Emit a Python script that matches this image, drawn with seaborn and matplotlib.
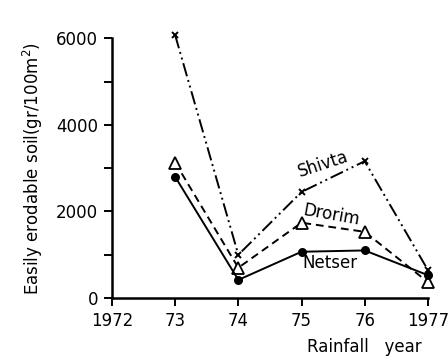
import matplotlib
matplotlib.use("Agg")
import matplotlib.pyplot as plt
import pandas as pd
import seaborn as sns
from matplotlib.ticker import MultipleLocator

years = [1973, 1974, 1975, 1976, 1977]
shivta = [6070, 1000, 2450, 3160, 650]
drorim = [3130, 700, 1740, 1530, 370]
netser = [2800, 420, 1070, 1100, 530]

xticks = [1972, 1973, 1974, 1975, 1976, 1977]
xtick_labels = ["1972", "73", "74", "75", "76", "1977"]
yticks = [0, 2000, 4000, 6000]

df = pd.DataFrame({
    "year": years * 3,
    "soil": shivta + drorim + netser,
    "site": ["Shivta"] * 5 + ["Drorim"] * 5 + ["Netser"] * 5,
})

sns.set_style("ticks")
plt.rcParams["font.family"] = ["DejaVu Sans"]
plt.rcParams["text.color"] = "black"
plt.rcParams["axes.labelcolor"] = "black"

fig = plt.figure(figsize=(4.48, 3.57), dpi=100)
ax = fig.add_axes([0.25, 0.165, 0.705, 0.728])

styles = {
    "Shivta": dict(marker="x", linestyle=(0, (7, 2, 1, 2, 1, 2)), markersize=5,
                   markeredgewidth=1.4, markerfacecolor="black"),
    "Drorim": dict(marker="^", linestyle=(0, (4, 2.5)), markersize=8.5,
                   markerfacecolor="white", markeredgewidth=1.3),
    "Netser": dict(marker="o", linestyle="-", markersize=6.5,
                   markerfacecolor="black", markeredgewidth=0),
}
for site, st in styles.items():
    sub = df[df["site"] == site]
    sns.lineplot(data=sub, x="year", y="soil", ax=ax, color="black",
                 linewidth=1.4, markeredgecolor="black", clip_on=False,
                 legend=False, **st)

ax.set_xlim(1972, 1977)
ax.set_ylim(0, 6000)
ax.set_xticks(xticks)
ax.set_xticklabels(xtick_labels)
ax.set_yticks(yticks)
ax.yaxis.set_minor_locator(MultipleLocator(1000))
ax.tick_params(axis="both", which="major", direction="out", length=6, width=1.4,
               labelsize=12, colors="black", pad=4)
ax.tick_params(axis="y", which="minor", direction="out", length=6, width=1.4,
               colors="black")
for s in ["top", "right"]:
    ax.spines[s].set_visible(False)
for s in ["left", "bottom"]:
    ax.spines[s].set_linewidth(1.8)
    ax.spines[s].set_color("black")

ax.set_xlabel("")
ax.set_ylabel("Easily erodable soil(gr/100m$^2$)", fontsize=12, labelpad=8)
fig.text(0.685, 0.015, "Rainfall   year", fontsize=12)

ax.text(1975.34, 3080, "Shivta", rotation=18, fontsize=12, ha="center", va="center")
ax.text(1975.47, 1920, "Drorim", rotation=-10, fontsize=12, ha="center", va="center")
ax.text(1975.45, 810, "Netser", fontsize=12, ha="center", va="center")

fig.savefig("out.png", dpi=100)
